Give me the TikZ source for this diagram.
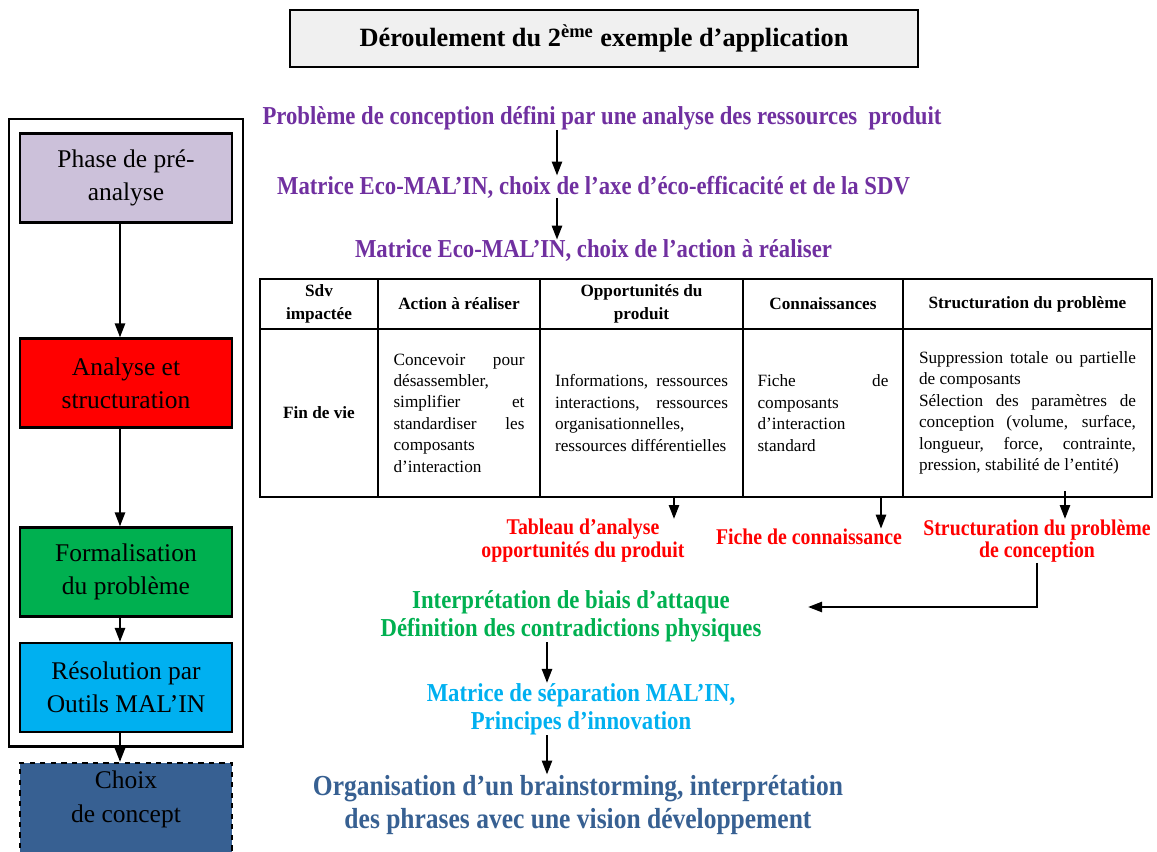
\documentclass[tikz,border=0pt]{standalone}
\usepackage{fontspec}
\setmainfont{Liberation Serif}
\newfontfamily\lblfont[FakeStretch=0.88]{Liberation Serif Bold}
\usepackage{tikz}
\usetikzlibrary{positioning,arrows.meta,fit}
\definecolor{prephase}{HTML}{CCC1DA}
\definecolor{ecopurple}{HTML}{7030A0}
\definecolor{anared}{HTML}{FF0000}
\definecolor{formgreen}{HTML}{00B050}
\definecolor{resolcyan}{HTML}{00B0F0}
\definecolor{concept}{HTML}{376092}
\definecolor{soft}{HTML}{F0F0F0}

\begin{document}
\begin{tikzpicture}[
  x=0.02cm, y=-0.02cm,
  every node/.style={inner sep=0pt},
  phase/.style={
    draw, line width=1.2pt, minimum width=4.24cm, minimum height=1.78cm,
    align=center, font=\fontsize{14.5}{19}\selectfont,
  },
  flow/.style={-{Triangle[length=2.8mm,width=2mm]}, line width=1.4pt},
  hcell/.style={
    draw, line width=1.5pt, minimum height=1cm, align=center,
    font=\bfseries\fontsize{9.8}{12.8}\selectfont,
  },
  bcell/.style={
    draw, line width=1.5pt, minimum height=3.36cm,
    font=\fontsize{9.8}{12.2}\selectfont,
  },
  lbl/.style={align=center, font=\lblfont\fontsize{14.7}{15.9}\selectfont},
  outlbl/.style={align=center, text=anared, font=\lblfont\fontsize{12.8}{13}\selectfont},
]
  \useasboundingbox (0,0) rectangle (1157,852);

  % Title
  \node[draw, line width=1.2pt, fill=soft, minimum width=12.56cm, minimum height=1.14cm,
        font=\bfseries\fontsize{15}{18}\selectfont] (title) at (604,38.5)
        {Déroulement du 2\textsuperscript{ème} exemple d’application};

  % Left column: phases
  \node[phase, fill=prephase]  (pre)  at (126,178)   {Phase de pré-\\analyse};
  \node[phase, fill=anared]    (ana)  at (126,383)   {Analyse et\\structuration};
  \node[phase, fill=formgreen] (form) at (126,572)   {Formalisation\\du problème};
  \node[phase, fill=resolcyan] (res)  at (126,687.5) {Résolution par\\Outils MAL’IN};
  \node[fit=(pre)(res), draw, line width=1.2pt, inner xsep=0.2cm, inner ysep=0.27cm] (frame) {};
  \node[phase, fill=concept, dashed, minimum height=1.94cm, text depth=0.6cm]
        (choix) at (126,811.5) {Choix\\de concept};

  \coordinate (leftx) at (120,0);
  \draw[flow] (pre.south -| leftx)  -- (ana.north -| leftx);
  \draw[flow] (ana.south -| leftx)  -- (form.north -| leftx);
  \draw[flow] (form.south -| leftx) -- (res.north -| leftx);
  \draw[flow] (res.south -| leftx)  -- (choix.north -| leftx);

  % Eco-MAL'IN steps
  \node[lbl, text=ecopurple] (prob)   at (602,118)   {Problème de conception défini par une analyse des ressources~ produit};
  \node[lbl, text=ecopurple] (ecoaxe) at (593.5,187) {Matrice Eco-MAL’IN, choix de l’axe d’éco-efficacité et de la SDV};
  \node[lbl, text=ecopurple] (ecoact) at (593.5,251) {Matrice Eco-MAL’IN, choix de l’action à réaliser};

  \coordinate (axisA) at (557,0);
  \draw[flow] (prob.south -| axisA)   -- (ecoaxe.north -| axisA);
  \draw[flow] (ecoaxe.south -| axisA) -- (ecoact.north -| axisA);

  % Table: header row
  \node[hcell, minimum width=2.36cm] (sdvH) at (319,304)    {Sdv\\impactée};
  \node[hcell, minimum width=3.24cm] (actH) at (459,304)    {Action à réaliser};
  \node[hcell, minimum width=4.06cm] (oppH) at (641.5,304)  {Opportunités du\\produit};
  \node[hcell, minimum width=3.2cm]  (conH) at (823,304)    {Connaissances};
  \node[hcell, minimum width=4.98cm] (strH) at (1027.5,304) {Structuration du problème};

  % Table: body row
  \node[bcell, minimum width=2.36cm, align=center, font=\bfseries\fontsize{9.8}{12}\selectfont]
        (sdvB) at (319,413) {Fin de vie};
  \node[bcell, minimum width=3.24cm, text width=2.62cm, align=justify] (actB) at (459,413)
        {Concevoir pour\linebreak désassembler,\newline simplifier et\linebreak
         standardiser les\linebreak composants\newline d’interaction};
  \node[bcell, minimum width=4.06cm, text width=3.46cm, align=justify] (oppB) at (641.5,413)
        {Informations, ressources\linebreak interactions, ressources\linebreak
         organisationnelles,\newline ressources différentielles};
  \node[bcell, minimum width=3.2cm, text width=2.62cm, align=justify] (conB) at (823,413)
        {Fiche de\linebreak composants\newline d’interaction\newline standard};
  \node[bcell, minimum width=4.98cm, text width=4.34cm, align=justify] (strB) at (1027.5,413)
        {Suppression totale ou partielle\linebreak de composants\newline
         Sélection des paramètres de\linebreak conception (volume, surface,\linebreak
         longueur, force, contrainte,\linebreak pression, stabilité de l’entité)};

  % Table outputs
  \node[outlbl] (tab)    at (583,541)  {Tableau d’analyse\\opportunités du produit};
  \node[outlbl] (fiche)  at (809,537)  {Fiche de connaissance};
  \node[outlbl] (struct) at (1037,541) {Structuration du problème\\de conception};

  \coordinate (dropA) at (674,0);
  \coordinate (dropB) at (881,0);
  \coordinate (dropC) at (1065,0);
  \draw[flow] (oppB.south -| dropA) -- (tab.north -| dropA);
  \draw[flow] (conB.south -| dropB) -- (fiche.north -| dropB);
  \draw[flow] ([yshift=0.14cm]strB.south -| dropC) -- (struct.north -| dropC);

  % Resolution
  \node[lbl, text=formgreen] (interp) at (571,616) {Interprétation de biais d’attaque\\Définition des contradictions physiques};
  \node[lbl, text=resolcyan] (matsep) at (581,709) {Matrice de séparation MAL’IN,\\Principes d’innovation};
  \node[align=center, text=concept, font=\lblfont\fontsize{16.5}{19.3}\selectfont]
        (brain) at (578,805) {Organisation d’un brainstorming, interprétation\\des phrases avec une vision développement};

  \coordinate (backTip) at (808,607);
  \draw[flow] (struct.south) |- (backTip);

  \coordinate (axisB) at (547,0);
  \draw[flow] (interp.south -| axisB) -- (matsep.north -| axisB);
  \draw[flow] (matsep.south -| axisB) -- (brain.north -| axisB);
\end{tikzpicture}
\end{document}
